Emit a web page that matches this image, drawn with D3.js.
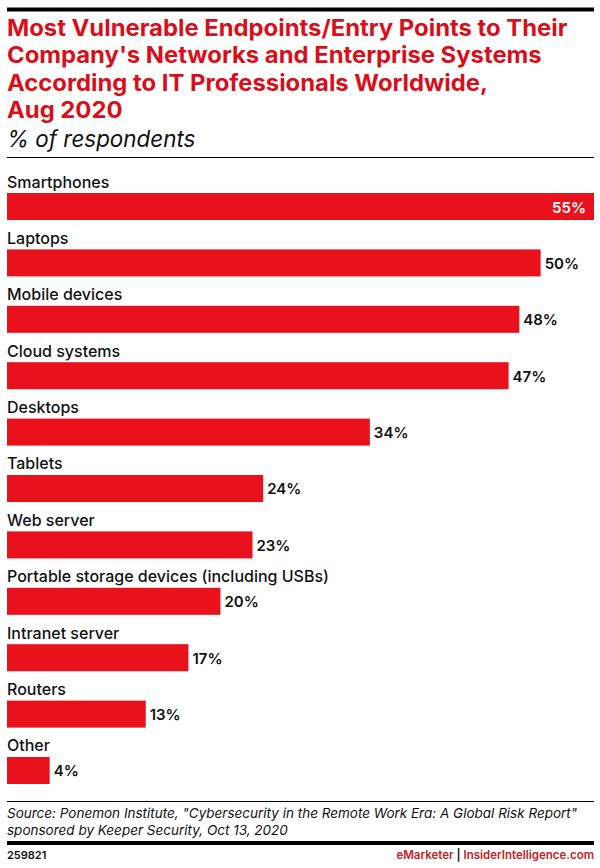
<!DOCTYPE html>
<html>
<head>
<meta charset="utf-8">
<script src="https://cdn.jsdelivr.net/npm/d3@7"></script>
<style>
  html, body { margin: 0; padding: 0; background: #fff; }
  text { font-family: Inter, "Liberation Sans", sans-serif; }
</style>
</head>
<body>
<svg id="chart" width="600" height="868"></svg>
<script>
"use strict";
const categories = ["Smartphones", "Laptops", "Mobile devices", "Cloud systems", "Desktops", "Tablets",
  "Web server", "Portable storage devices (including USBs)", "Intranet server", "Routers", "Other"];
const values = [55, 50, 48, 47, 34, 24, 23, 20, 17, 13, 4];
const titleLines = ["Most Vulnerable Endpoints/Entry Points to Their", "Company's Networks and Enterprise Systems",
  "According to IT Professionals Worldwide,", "Aug 2020"];
const sourceLines = ["Source: Ponemon Institute, \"Cybersecurity in the Remote Work Era: A Global Risk Report\"",
  "sponsored by Keeper Security, Oct 13, 2020"];

const red = "#e8111c", left = 7, right = 594;
const svg = d3.select("#chart");

// x runs so that the biggest bar fills the full width
const x = d3.scaleLinear().domain([0, 55]).range([left, right]);
const y = d3.scaleBand().domain(categories).range([193, 784]).paddingInner(0.521).paddingOuter(0);

function rule(yPos, weight){
  svg.append("line").attr("x1", left).attr("x2", right).attr("y1", yPos).attr("y2", yPos)
    .attr("stroke", "#000").attr("stroke-width", weight);
}

rule(9.5, 4);
rule(157.5, 1);
rule(801.5, 1);
rule(843, 4);

// title font is wider than Inter, so stretch the group a little
svg.append("g").attr("transform", `translate(${left},0) scale(1.06,1)`)
  .selectAll("text").data(titleLines).join("text")
  .attr("x", 0).attr("y", (d, i) => 36 + i * 27.3)
  .attr("font-size", 22.5).attr("font-weight", 700).attr("fill", "#d80f1a")
  .text(d => d);

svg.append("text").attr("x", left).attr("y", 147)
  .attr("font-size", 22.4).attr("font-style", "italic").attr("fill", "#111")
  .text("% of respondents");

const rows = svg.append("g").selectAll("g").data(categories).join("g");

rows.append("text").attr("x", left).attr("y", d => y(d) - 5.5)
  .attr("font-size", 16).attr("font-weight", 500).attr("fill", "#111")
  .text(d => d);

rows.append("rect").attr("x", left).attr("y", d => y(d))
  .attr("width", (d, i) => x(values[i]) - left).attr("height", y.bandwidth())
  .attr("fill", red);

rows.append("text")
  .attr("x", (d, i) => values[i] === 55 ? x(values[i]) - 8 : x(values[i]) + 4)
  .attr("y", d => y(d) + 19.5)
  .attr("text-anchor", (d, i) => values[i] === 55 ? "end" : "start")
  .attr("font-size", 15).attr("font-weight", 600)
  .attr("fill", (d, i) => values[i] === 55 ? "#fff" : "#111")
  .text((d, i) => values[i] + "%");

svg.append("g").selectAll("text").data(sourceLines).join("text")
  .attr("x", left).attr("y", (d, i) => 818 + i * 17)
  .attr("font-size", 13.5).attr("font-style", "italic").attr("fill", "#111")
  .text(d => d);

svg.append("text").attr("x", left).attr("y", 859)
  .attr("font-size", 11).attr("font-weight", 600).attr("fill", "#111").text("259821");

const foot = svg.append("text").attr("x", right).attr("y", 859).attr("text-anchor", "end")
  .attr("font-size", 11.5).attr("font-weight", 600);
foot.append("tspan").attr("fill", "#c8202a").text("eMarketer");
foot.append("tspan").attr("fill", "#111").text("  |  ");
foot.append("tspan").attr("fill", "#c8202a").text("InsiderIntelligence.com");
</script>
</body>
</html>
